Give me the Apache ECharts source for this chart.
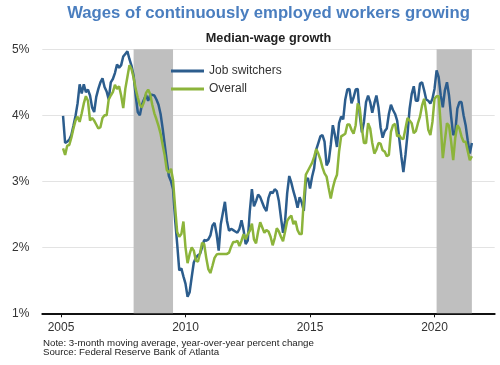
<!DOCTYPE html>
<html><head><meta charset="utf-8">
<script src="https://cdn.jsdelivr.net/npm/echarts@6/dist/echarts.min.js"></script>
<style>html,body{margin:0;padding:0;background:#fff}#c{width:500px;height:365px}</style>
</head><body><div id="c"></div>
<script>
// Monthly data, first value = Feb 2005, last value = Jul 2021
const startYear = 2005, startMonth = 2;
const jobSwitchers = [3.99,3.58,3.60,3.63,3.70,3.84,3.99,4.18,4.47,4.33,4.47,4.35,4.39,4.30,4.12,4.05,4.28,4.40,4.50,4.56,4.43,4.36,4.24,4.50,4.55,4.64,4.77,4.72,4.76,4.89,4.93,4.97,4.85,4.75,4.60,4.30,4.05,4.00,4.16,4.24,4.31,4.22,4.31,4.31,4.30,4.24,4.16,4.02,3.80,3.55,3.30,3.08,3.00,2.88,2.42,2.05,1.65,1.68,1.56,1.45,1.25,1.32,1.55,1.77,1.84,1.88,1.90,2.00,2.11,2.10,2.12,2.18,2.33,2.37,2.20,1.95,2.35,2.52,2.69,2.40,2.25,2.28,2.26,2.24,2.22,2.28,2.41,2.26,2.05,2.10,2.55,2.88,2.62,2.70,2.80,2.76,2.68,2.60,2.55,2.75,2.84,2.82,2.88,2.85,2.70,2.45,2.22,2.40,2.82,3.08,2.98,2.85,2.74,2.60,2.76,2.68,2.55,3.00,3.05,2.89,3.07,3.20,3.48,3.58,3.68,3.70,3.60,3.24,3.30,3.55,3.85,3.70,3.52,3.88,3.98,3.94,4.24,4.39,4.40,4.18,4.27,4.39,4.40,4.00,3.74,3.90,4.20,4.30,4.20,4.04,4.18,4.30,4.12,3.82,3.66,3.76,3.80,4.02,4.16,4.08,4.02,3.92,3.65,3.38,3.14,3.40,3.72,4.10,4.32,4.44,4.22,4.22,4.48,4.50,4.38,4.24,4.22,4.18,4.25,4.40,4.68,4.58,4.30,4.12,4.38,4.50,4.30,3.98,3.70,3.75,4.10,4.20,4.20,4.00,3.85,3.62,3.42,3.58];
const overall = [3.50,3.40,3.54,3.55,3.66,3.80,3.92,3.98,3.90,4.03,4.18,4.29,4.22,3.92,3.96,3.92,3.86,3.80,3.82,3.96,4.00,4.00,4.24,4.30,4.35,4.46,4.40,4.44,4.30,4.11,4.40,4.58,4.76,4.70,4.57,4.40,4.27,4.16,4.12,4.20,4.34,4.39,4.32,4.16,4.03,3.94,3.84,3.72,3.55,3.39,3.17,3.13,3.19,3.02,2.60,2.23,2.16,2.20,2.39,2.00,1.76,1.90,2.00,1.95,1.80,1.78,1.91,2.07,2.05,1.84,1.67,1.61,1.72,1.84,1.89,1.90,1.90,1.90,1.90,1.90,1.92,2.01,2.08,2.08,2.10,2.02,2.10,2.20,2.12,2.20,2.25,2.36,2.12,2.06,2.24,2.38,2.30,2.22,2.26,2.24,2.16,2.03,2.14,2.29,2.24,2.16,2.09,2.24,2.40,2.45,2.48,2.35,2.40,2.26,2.20,2.20,2.72,3.10,3.16,3.22,3.28,3.37,3.49,3.42,3.33,3.21,3.12,3.07,2.90,2.74,2.90,3.02,3.10,3.45,3.68,3.70,3.72,3.86,3.86,3.78,3.72,3.85,4.18,4.10,3.80,3.58,3.58,3.88,3.80,3.58,3.42,3.48,3.58,3.57,3.47,3.45,3.38,3.40,3.75,3.85,3.87,3.68,3.70,3.65,3.64,3.80,3.96,3.92,3.88,3.73,3.76,3.88,3.98,4.15,4.25,4.05,3.78,3.70,3.90,4.25,4.29,4.29,3.85,3.35,3.62,3.88,3.84,3.60,3.32,3.66,3.85,3.80,3.68,3.60,3.60,3.46,3.32,3.38];
const recessions = [['2007-12','2009-07'],['2020-02','2021-07']];
const yTicks = [1,2,3,4,5];
const xLabelYears = [2005,2010,2015,2020];
// axis category range (months)
const axisStart = [2004, 4], axisEnd = [2022, 6];

function key(y,m){return y+'-'+String(m).padStart(2,'0');}
const cats = [];
for (let y=axisStart[0], m=axisStart[1]; y<axisEnd[0] || (y===axisEnd[0] && m<=axisEnd[1]); ) {
  cats.push(key(y,m)); m++; if(m>12){m=1;y++;}
}
const startIdx = cats.indexOf(key(startYear,startMonth));
function pad(arr){ return cats.map((c,i)=> (i>=startIdx && i-startIdx<arr.length) ? arr[i-startIdx] : null); }
const isLabel = (i,v)=>{ const [y,m]=v.split('-').map(Number); return m===1 && xLabelYears.includes(y); };

const font = 'Liberation Sans, Arial, Helvetica, sans-serif';
const chart = echarts.init(document.getElementById('c'), null, {renderer:'canvas'});
chart.setOption({
  animation:false,
  textStyle:{fontFamily:font},
  title:[
    {text:'Wages of continuously employed workers growing', left:268.5, top:5, textAlign:'center', padding:0,
     textStyle:{fontSize:16.7, fontWeight:'bold', color:'#4a7ebf', fontFamily:font}},
    {text:'Median-wage growth', left:268.5, top:32, textAlign:'center', padding:0,
     textStyle:{fontSize:12.7, fontWeight:'bold', color:'#222', fontFamily:font}},
    {text:'Note: 3-month moving average, year-over-year percent change', left:43, top:338, padding:0,
     textStyle:{fontSize:9.7, fontWeight:'normal', color:'#222', fontFamily:font}},
    {text:'Source: Federal Reserve Bank of Atlanta', left:43, top:347.5, padding:0,
     textStyle:{fontSize:9.7, fontWeight:'normal', color:'#222', fontFamily:font}}
  ],
  legend:{
    data:['Job switchers','Overall'], orient:'vertical', left:171, top:64, padding:0,
    icon:'rect', itemWidth:33, itemHeight:3, itemGap:4,
    textStyle:{fontSize:12, color:'#333', lineHeight:14, fontFamily:font}
  },
  grid:{left:42.3, right:5.3, top:49.3, bottom:51.7},
  xAxis:{
    type:'category', data:cats, boundaryGap:false,
    axisLine:{lineStyle:{color:'#111', width:2}},
    axisTick:{interval:isLabel, length:4, lineStyle:{color:'#111', width:1}},
    axisLabel:{interval:isLabel, formatter:v=>v.slice(0,4), margin:8, fontSize:12, color:'#333', fontFamily:font},
    splitLine:{show:false}
  },
  yAxis:{
    type:'value', min:yTicks[0], max:yTicks[yTicks.length-1], interval:1,
    axisLine:{show:false}, axisTick:{show:false},
    axisLabel:{formatter:'{value}%', margin:13, fontSize:12, color:'#333', fontFamily:font},
    splitLine:{lineStyle:{color:'#e3e3e3', width:1}}
  },
  series:[
    {name:'recession', type:'line', data:[], z:1, silent:true,
     markArea:{silent:true, itemStyle:{color:'#bfbfbf', opacity:1},
       data: recessions.map(r=>[{xAxis:r[0]},{xAxis:r[1]}])}},
    {name:'Job switchers', type:'line', data:pad(jobSwitchers), showSymbol:false, z:3,
     lineStyle:{color:'#2c5d8d', width:2.5}, itemStyle:{color:'#2c5d8d'}},
    {name:'Overall', type:'line', data:pad(overall), showSymbol:false, z:4,
     lineStyle:{color:'#8cb43b', width:2.5}, itemStyle:{color:'#8cb43b'}}
  ]
});
</script></body></html>
